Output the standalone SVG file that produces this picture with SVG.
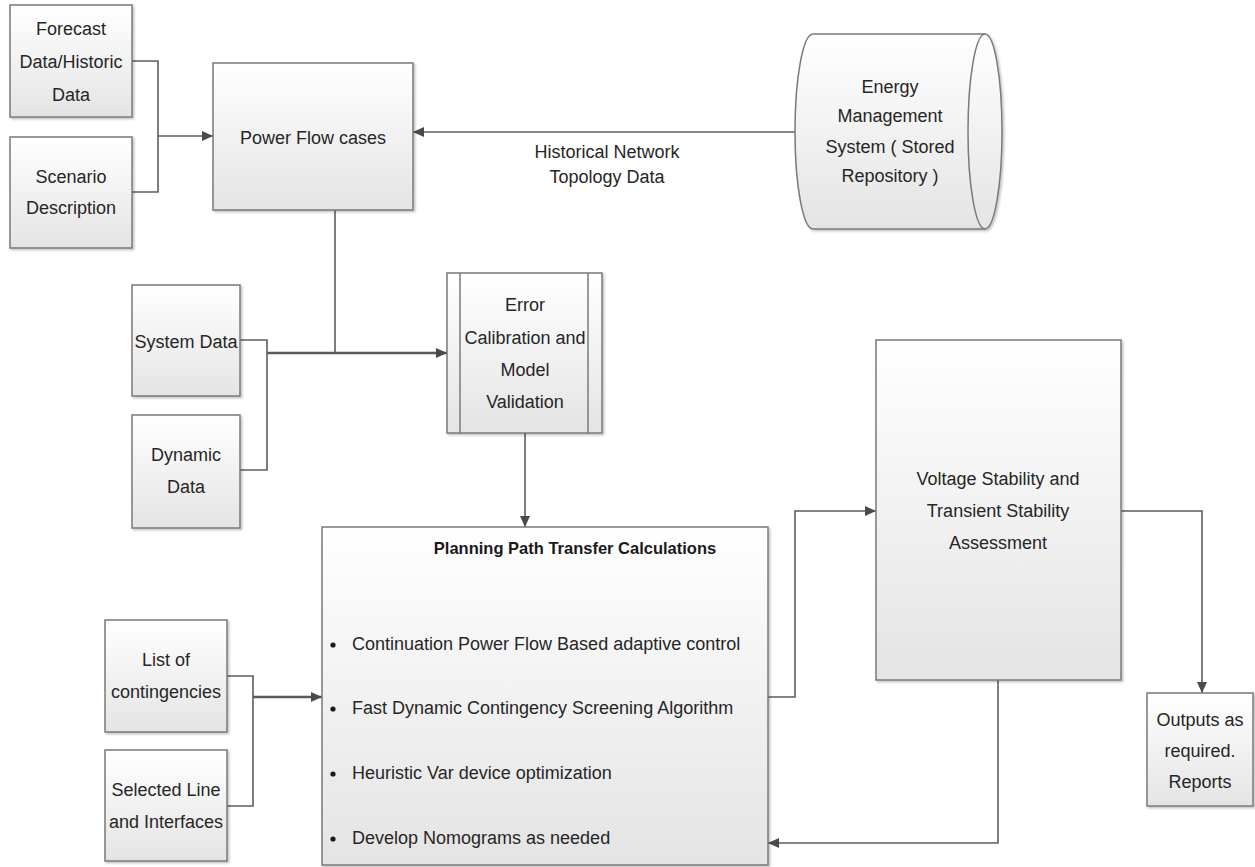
<svg xmlns="http://www.w3.org/2000/svg" width="1255" height="867" viewBox="0 0 1255 867">
<style>
.box{fill:url(#g);stroke:#7a7a7a;stroke-width:1.5;filter:url(#sh)}
.t{font-family:"Liberation Sans",Arial,sans-serif;font-size:18px;fill:#262626;text-anchor:middle;dominant-baseline:central}
.tl{font-family:"Liberation Sans",Arial,sans-serif;font-size:18px;fill:#262626;dominant-baseline:central}
.tb{font-family:"Liberation Sans",Arial,sans-serif;font-size:16.5px;font-weight:bold;fill:#1a1a1a;text-anchor:middle;dominant-baseline:central}
.c{fill:none;stroke:#5e5e5e;stroke-width:1.6}
.ct{fill:none;stroke:#5a5a5a;stroke-width:2.6}
.a{marker-end:url(#ar)}
</style>
<defs>
<linearGradient id="g" x1="0" y1="0" x2="0" y2="1">
<stop offset="0" stop-color="#ffffff"/>
<stop offset="1" stop-color="#e4e4e4"/>
</linearGradient>
<filter id="sh" x="-10%" y="-10%" width="130%" height="130%">
<feDropShadow dx="1.5" dy="1.5" stdDeviation="1.2" flood-color="#000" flood-opacity="0.25"/>
</filter>
<marker id="ar" markerUnits="userSpaceOnUse" markerWidth="12" markerHeight="10" refX="11" refY="5" orient="auto">
<path d="M0,0 L11,5 L0,10 Z" fill="#4a4a4a"/>
</marker>
</defs>
<rect width="1255" height="867" fill="#ffffff"/>

<g id="connectors">
<polyline class="c" points="132,61 158,61 158,192 132,192"/>
<line class="c a" x1="158" y1="136" x2="213" y2="136"/>
<line class="c a" x1="795" y1="132" x2="413" y2="132"/>
<line class="c" x1="335" y1="210" x2="335" y2="353"/>
<polyline class="c" points="240,340 267,340 267,470 240,470"/>
<line class="ct a" x1="267" y1="353" x2="447" y2="353"/>
<line class="c a" x1="525" y1="433" x2="525" y2="527"/>
<polyline class="c" points="227,676 253,676 253,806 227,806"/>
<line class="ct a" x1="253" y1="697" x2="322" y2="697"/>
<polyline class="c a" points="768,697 795,697 795,511 876,511"/>
<polyline class="c a" points="1121,511 1202,511 1202,693"/>
<polyline class="c a" points="998,680 998,843 768,843"/>
</g>

<g id="forecast">
<rect class="box" x="10" y="5" width="122" height="112"/>
<text class="t" x="71" y="29">Forecast</text>
<text class="t" x="71" y="62">Data/Historic</text>
<text class="t" x="71" y="95">Data</text>
</g>
<g id="scenario">
<rect class="box" x="10" y="137" width="122" height="111"/>
<text class="t" x="71" y="177">Scenario</text>
<text class="t" x="71" y="208">Description</text>
</g>
<g id="powerflow">
<rect class="box" x="213" y="63" width="200" height="147"/>
<text class="t" x="313" y="138">Power Flow cases</text>
</g>
<g id="ems">
<path d="M813,34 L985,34 A17,97.5 0 0 1 985,229 L813,229 A18,97.5 0 0 1 813,34 Z" fill="url(#g)" stroke="#7a7a7a" stroke-width="1.5" filter="url(#sh)"/>
<path d="M985,34 A17,97.5 0 0 0 985,229" fill="none" stroke="#7a7a7a" stroke-width="1.5"/>
<text class="t" x="890" y="87">Energy</text>
<text class="t" x="890" y="116">Management</text>
<text class="t" x="890" y="147">System ( Stored</text>
<text class="t" x="890" y="176">Repository )</text>
</g>
<g id="historical-label">
<text class="t" x="607" y="152">Historical Network</text>
<text class="t" x="607" y="177">Topology Data</text>
</g>
<g id="systemdata">
<rect class="box" x="132" y="285" width="108" height="111"/>
<text class="t" x="186" y="342">System Data</text>
</g>
<g id="dynamicdata">
<rect class="box" x="132" y="415" width="108" height="113"/>
<text class="t" x="186" y="455">Dynamic</text>
<text class="t" x="186" y="487">Data</text>
</g>
<g id="error">
<rect class="box" x="447" y="273" width="155" height="160"/>
<line x1="460" y1="273" x2="460" y2="433" stroke="#7a7a7a" stroke-width="1.5"/>
<line x1="588" y1="273" x2="588" y2="433" stroke="#7a7a7a" stroke-width="1.5"/>
<text class="t" x="525" y="305">Error</text>
<text class="t" x="525" y="338">Calibration and</text>
<text class="t" x="525" y="370">Model</text>
<text class="t" x="525" y="402">Validation</text>
</g>
<g id="planning">
<rect class="box" x="322" y="527" width="446" height="338"/>
<text class="tb" x="575" y="548">Planning Path Transfer Calculations</text>
<circle cx="333" cy="645" r="2.6" fill="#1a1a1a"/>
<circle cx="333" cy="709" r="2.6" fill="#1a1a1a"/>
<circle cx="333" cy="774" r="2.6" fill="#1a1a1a"/>
<circle cx="333" cy="839" r="2.6" fill="#1a1a1a"/>
<text class="tl" x="352" y="644">Continuation Power Flow Based adaptive control</text>
<text class="tl" x="352" y="708">Fast Dynamic Contingency Screening Algorithm</text>
<text class="tl" x="352" y="773">Heuristic Var device optimization</text>
<text class="tl" x="352" y="838">Develop Nomograms as needed</text>
</g>
<g id="contingencies">
<rect class="box" x="105" y="620" width="122" height="112"/>
<text class="t" x="166" y="660">List of</text>
<text class="t" x="166" y="692">contingencies</text>
</g>
<g id="selectedline">
<rect class="box" x="105" y="750" width="122" height="111"/>
<text class="t" x="166" y="790">Selected Line</text>
<text class="t" x="166" y="822">and Interfaces</text>
</g>
<g id="voltage">
<rect class="box" x="876" y="340" width="245" height="340"/>
<text class="t" x="998" y="479">Voltage Stability and</text>
<text class="t" x="998" y="511">Transient Stability</text>
<text class="t" x="998" y="543">Assessment</text>
</g>
<g id="outputs">
<rect class="box" x="1147" y="693" width="106" height="113"/>
<text class="t" x="1200" y="720">Outputs as</text>
<text class="t" x="1200" y="751">required.</text>
<text class="t" x="1200" y="782">Reports</text>
</g>
</svg>
